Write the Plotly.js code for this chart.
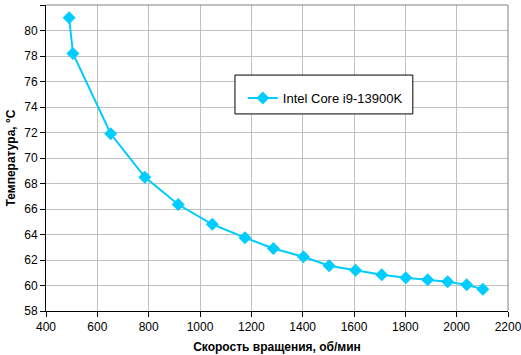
<!DOCTYPE html>
<html><head><meta charset="utf-8">
<script src="https://cdn.plot.ly/plotly-3.0.1.min.js"></script>
<style>html,body{margin:0;padding:0;background:#fff}#c{width:521px;height:355px}</style>
</head><body><div id="c"></div>
<script>
const seriesName = "Intel Core i9-13900K";
const rpm = [490, 505, 652, 785, 915, 1048, 1175, 1286, 1403, 1503, 1606, 1708, 1802, 1887, 1965, 2039, 2102];
const temp = [81.0, 78.2, 71.9, 68.5, 66.35, 64.8, 63.75, 62.9, 62.25, 61.55, 61.2, 60.85, 60.6, 60.45, 60.3, 60.05, 59.7];
const xTicks = [400, 600, 800, 1000, 1200, 1400, 1600, 1800, 2000, 2200];
const yTicks = [58, 60, 62, 64, 66, 68, 70, 72, 74, 76, 78, 80, 82];

const font = "Liberation Sans, Arial, sans-serif";
Plotly.newPlot('c', [{
  x: rpm, y: temp, name: seriesName, type: 'scatter', mode: 'lines+markers',
  line: {color: '#00CCFF', width: 2},
  marker: {symbol: 'diamond', size: 10, color: '#00CCFF'}
}], {
  width: 521, height: 355,
  margin: {l: 46, r: 13, t: 5, b: 44},
  paper_bgcolor: '#fff', plot_bgcolor: '#fff',
  font: {family: font, size: 12, color: '#000'},
  showlegend: true,
  legend: {x: 0.426, y: 0.745, xanchor: 'left', yanchor: 'top', borderwidth: 0,
           bgcolor: 'rgba(0,0,0,0)', font: {family: font, size: 13}, itemwidth: 30},
  xaxis: {range: [400, 2200.01], tickvals: xTicks, ticktext: xTicks.map(String), ticklabeloverflow: 'allow',
          showgrid: true, gridcolor: '#C0C0C0', gridwidth: 1,
          showline: true, linecolor: '#000', linewidth: 1,
          ticks: 'outside', ticklen: 5, tickcolor: '#000', zeroline: false,
          title: {text: '<b>Скорость вращения, об/мин</b>', font: {family: font, size: 12}, standoff: 9}},
  yaxis: {range: [58, 82], tickvals: yTicks, ticktext: yTicks.map(String),
          showgrid: true, gridcolor: '#C0C0C0', gridwidth: 1,
          showline: true, linecolor: '#000', linewidth: 1,
          ticks: 'outside', ticklen: 5, tickcolor: '#000', zeroline: false,
          title: {text: '<b>Температура, °С</b>', font: {family: font, size: 12}, standoff: 6}},
  shapes: [
    {type: 'line', xref: 'paper', yref: 'paper', x0: 0, x1: 1, y0: 1, y1: 1, line: {color: '#808080', width: 1}},
    {type: 'line', xref: 'paper', yref: 'paper', x0: 1, x1: 1, y0: 0, y1: 1, line: {color: '#808080', width: 1}},
    {type: 'rect', xref: 'paper', yref: 'paper', x0: 0.409, x1: 0.794, y0: 0.644, y1: 0.771,
     fillcolor: '#fff', line: {color: '#000', width: 1}, layer: 'above'}
  ]
}, {staticPlot: true});
</script></body></html>
